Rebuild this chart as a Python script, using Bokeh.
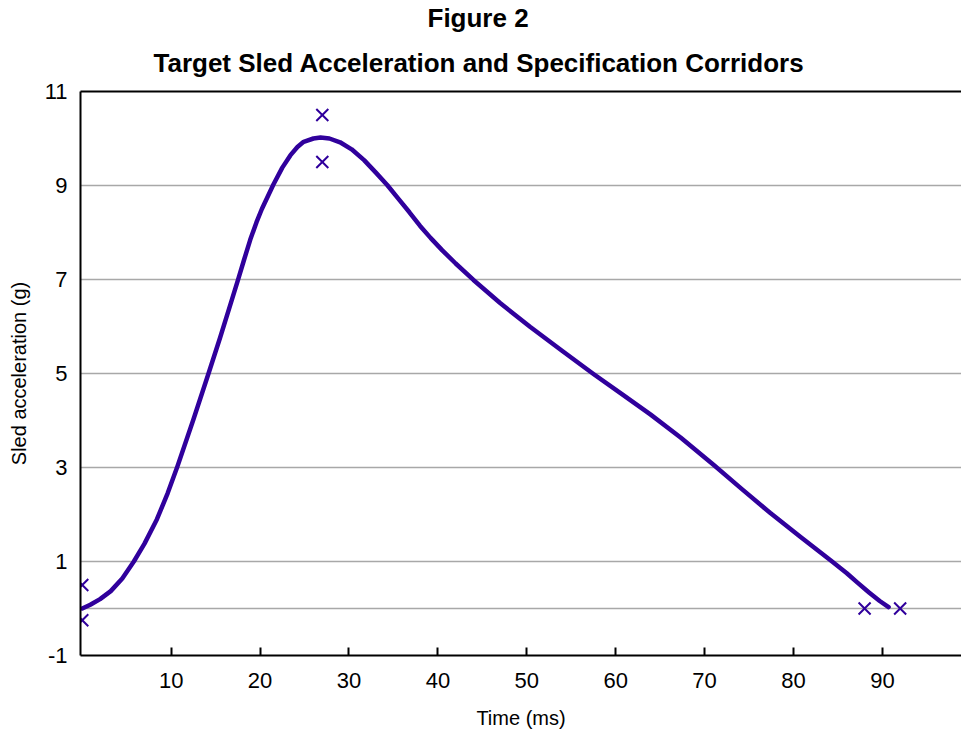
from bokeh.plotting import figure
from bokeh.models import FixedTicker, Title, LinearAxis, Range1d
from bokeh.embed import file_html
from bokeh.resources import INLINE

# Target sled acceleration curve
time_ms = [0.0, 0.9, 2.0, 3.2, 4.5, 5.8, 7.0, 8.4, 9.6, 10.7, 12.5, 14.2, 15.5, 16.5,
           17.5, 18.2, 18.9, 19.6, 20.2, 21.5, 22.5, 23.4, 24.2, 24.9, 26.0, 26.8,
           27.8, 29.0, 30.3, 31.7, 33.0, 34.3, 35.5, 36.8, 38.0, 39.2, 40.5, 42.0,
           44.0, 47.0, 50.4, 54.0, 57.5, 60.7, 63.9, 67.3, 71.0, 74.2, 77.4, 80.8,
           84.2, 86.0, 87.2, 88.5, 89.7, 90.7]
accel_g = [0.0, 0.08, 0.2, 0.37, 0.64, 1.0, 1.38, 1.9, 2.45, 3.02, 4.02, 5.0, 5.76, 6.37,
           6.98, 7.42, 7.85, 8.22, 8.5, 9.02, 9.38, 9.64, 9.82, 9.93, 10.0, 10.02,
           10.0, 9.92, 9.77, 9.54, 9.28, 9.01, 8.73, 8.43, 8.14, 7.88, 7.62, 7.34,
           6.99, 6.5, 5.99, 5.48, 4.99, 4.56, 4.13, 3.64, 3.06, 2.54, 2.03, 1.52,
           1.02, 0.75, 0.55, 0.34, 0.16, 0.03]

# Specification corridor points
corr_t = [0, 0, 27, 27, 88, 92]
corr_g = [0.5, -0.25, 10.5, 9.5, 0, 0]

x_ticks = [10, 20, 30, 40, 50, 60, 70, 80, 90]
y_ticks = [-1, 1, 3, 5, 7, 9, 11]
y_grid = [0, 1, 3, 5, 7, 9]

title_1 = "Figure 2"
title_2 = "Target Sled Acceleration and Specification Corridors"
x_label = "Time (ms)"
y_label = "Sled acceleration (g)"

FONT = "Liberation Sans"
COLOR = "#30009c"

p = figure(width=961, height=734, output_backend="svg", toolbar_location=None,
           x_range=Range1d(-0.2, 98.9), y_range=Range1d(-1, 11),
           min_border_left=80, min_border_right=0, min_border_top=91,
           min_border_bottom=79)
p.outline_line_color = None
p.background_fill_color = "white"
p.border_fill_color = "white"
p.title.visible = False

xa = p.below[0]
ya = p.left[0]

# top border line of the plot area (added first so it sits on the frame)
top = LinearAxis(axis_line_color="black", axis_line_width=2, major_tick_line_color=None,
                 minor_tick_line_color=None, major_label_text_font_size="0px",
                 major_tick_in=0, major_tick_out=0, major_label_standoff=0)
top.ticker = FixedTicker(ticks=[])
p.add_layout(top, "above")

# titles (left-aligned with an offset so that they are centred on the page)
t2 = Title(text=title_2, align="left", offset=73, text_font=FONT, text_font_size="26px",
           text_font_style="bold", text_color="black", standoff=27)
t1 = Title(text=title_1, align="left", offset=347, text_font=FONT, text_font_size="26px",
           text_font_style="bold", text_color="black", standoff=0)
p.add_layout(t2, "above")
p.add_layout(t1, "above")

# x axis
xa.ticker = FixedTicker(ticks=x_ticks)
xa.axis_line_color = "black"
xa.axis_line_width = 2
xa.major_tick_in = 8
xa.major_tick_out = 0
xa.major_tick_line_width = 2
xa.major_tick_line_color = "black"
xa.minor_tick_line_color = None
xa.major_label_text_font = FONT
xa.major_label_text_font_size = "22px"
xa.major_label_text_color = "black"
xa.major_label_standoff = 17
xa.axis_label = x_label
xa.axis_label_text_font = FONT
xa.axis_label_text_font_size = "20px"
xa.axis_label_text_font_style = "normal"
xa.axis_label_text_color = "black"
xa.axis_label_standoff = 16

# y axis
ya.ticker = FixedTicker(ticks=y_ticks)
ya.major_label_overrides = {-1: "-1"}
ya.axis_line_color = "black"
ya.axis_line_width = 2
ya.major_tick_in = 0
ya.major_tick_out = 0
ya.minor_tick_line_color = None
ya.major_label_text_font = FONT
ya.major_label_text_font_size = "22px"
ya.major_label_text_color = "black"
ya.major_label_standoff = 13
ya.axis_label = y_label
ya.axis_label_text_font = FONT
ya.axis_label_text_font_size = "20px"
ya.axis_label_text_font_style = "normal"
ya.axis_label_text_color = "black"
ya.axis_label_standoff = 12

p.xgrid.visible = False
p.ygrid.ticker = FixedTicker(ticks=y_grid)
p.ygrid.grid_line_color = "#a8a8a8"
p.ygrid.grid_line_width = 1.5

p.line(time_ms, accel_g, line_color=COLOR, line_width=4.5, line_join="round", line_cap="round")
p.scatter(corr_t, corr_g, marker="x", size=17, line_color=COLOR, line_width=2)

open("out.html", "w").write(file_html(p, INLINE))
